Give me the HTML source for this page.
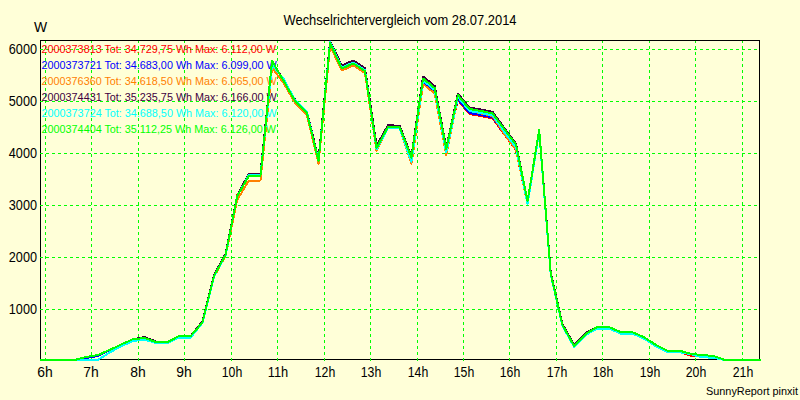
<!DOCTYPE html>
<html><head><meta charset="utf-8"><title>Wechselrichtervergleich</title>
<style>
html,body{margin:0;padding:0;background:#FFFFD8;width:800px;height:400px;overflow:hidden}
svg{position:absolute;left:0;top:0;display:block}
text{font-family:"Liberation Sans",sans-serif}
</style></head><body>
<svg width="800" height="400" viewBox="0 0 800 400">
<rect x="0" y="0" width="800" height="400" fill="#FFFFD8"/>

<g shape-rendering="crispEdges" fill="none" stroke="#000" stroke-width="1">
<rect x="40.5" y="40.5" width="719" height="319"/>
</g>
<g shape-rendering="crispEdges" fill="none" stroke="#00FF00" stroke-width="1" stroke-dasharray="3 3">
<line x1="40" y1="49.5" x2="759" y2="49.5"/>
<line x1="40" y1="101.5" x2="759" y2="101.5"/>
<line x1="40" y1="153.5" x2="759" y2="153.5"/>
<line x1="40" y1="205.5" x2="759" y2="205.5"/>
<line x1="40" y1="257.5" x2="759" y2="257.5"/>
<line x1="40" y1="309.5" x2="759" y2="309.5"/>
<line x1="45.5" y1="41" x2="45.5" y2="361" stroke-dashoffset="1"/>
<line x1="91.5" y1="41" x2="91.5" y2="361" stroke-dashoffset="1"/>
<line x1="138.5" y1="41" x2="138.5" y2="361" stroke-dashoffset="1"/>
<line x1="184.5" y1="41" x2="184.5" y2="361" stroke-dashoffset="1"/>
<line x1="231.5" y1="41" x2="231.5" y2="361" stroke-dashoffset="1"/>
<line x1="277.5" y1="41" x2="277.5" y2="361" stroke-dashoffset="1"/>
<line x1="324.5" y1="41" x2="324.5" y2="361" stroke-dashoffset="1"/>
<line x1="370.5" y1="41" x2="370.5" y2="361" stroke-dashoffset="1"/>
<line x1="417.5" y1="41" x2="417.5" y2="361" stroke-dashoffset="1"/>
<line x1="463.5" y1="41" x2="463.5" y2="361" stroke-dashoffset="1"/>
<line x1="509.5" y1="41" x2="509.5" y2="361" stroke-dashoffset="1"/>
<line x1="556.5" y1="41" x2="556.5" y2="361" stroke-dashoffset="1"/>
<line x1="602.5" y1="41" x2="602.5" y2="361" stroke-dashoffset="1"/>
<line x1="649.5" y1="41" x2="649.5" y2="361" stroke-dashoffset="1"/>
<line x1="695.5" y1="41" x2="695.5" y2="361" stroke-dashoffset="1"/>
<line x1="742.5" y1="41" x2="742.5" y2="361" stroke-dashoffset="1"/>
</g>
<g font-size="10.8">
<text x="41.6" y="53" fill="#FF0000">2000373813 Tot: 34.729,75 Wh Max: 6.112,00 W</text>
<text x="41.6" y="69" fill="#0000FF">2000373721 Tot: 34.683,00 Wh Max: 6.099,00 W</text>
<text x="41.6" y="85" fill="#FF8000">2000376360 Tot: 34.618,50 Wh Max: 6.065,00 W</text>
<text x="41.6" y="101" fill="#400040">2000374431 Tot: 35.235,75 Wh Max: 6.166,00 W</text>
<text x="41.6" y="117" fill="#00FFFF">2000373724 Tot: 34.688,50 Wh Max: 6.120,00 W</text>
<text x="41.6" y="133" fill="#00FF00">2000374404 Tot: 35.112,25 Wh Max: 6.126,00 W</text>
</g>
<g font-size="13.9" fill="#000">
<text x="400" y="25" text-anchor="middle" textLength="233" lengthAdjust="spacingAndGlyphs">Wechselrichtervergleich vom 28.07.2014</text>
<text x="40.5" y="32" text-anchor="middle">W</text>
<text x="37" y="54" font-size="14.2" text-anchor="end" textLength="28.2" lengthAdjust="spacingAndGlyphs">6000</text>
<text x="37" y="106" font-size="14.2" text-anchor="end" textLength="28.2" lengthAdjust="spacingAndGlyphs">5000</text>
<text x="37" y="158" font-size="14.2" text-anchor="end" textLength="28.2" lengthAdjust="spacingAndGlyphs">4000</text>
<text x="37" y="210" font-size="14.2" text-anchor="end" textLength="28.2" lengthAdjust="spacingAndGlyphs">3000</text>
<text x="37" y="262" font-size="14.2" text-anchor="end" textLength="28.2" lengthAdjust="spacingAndGlyphs">2000</text>
<text x="37" y="314" font-size="14.2" text-anchor="end" textLength="28.2" lengthAdjust="spacingAndGlyphs">1000</text>
<text x="45" y="377" text-anchor="middle">6h</text>
<text x="91" y="377" text-anchor="middle">7h</text>
<text x="138" y="377" text-anchor="middle">8h</text>
<text x="184" y="377" text-anchor="middle">9h</text>
<text x="232" y="377" text-anchor="middle" textLength="20.5" lengthAdjust="spacingAndGlyphs">10h</text>
<text x="278" y="377" text-anchor="middle" textLength="20.5" lengthAdjust="spacingAndGlyphs">11h</text>
<text x="325" y="377" text-anchor="middle" textLength="20.5" lengthAdjust="spacingAndGlyphs">12h</text>
<text x="371" y="377" text-anchor="middle" textLength="20.5" lengthAdjust="spacingAndGlyphs">13h</text>
<text x="418" y="377" text-anchor="middle" textLength="20.5" lengthAdjust="spacingAndGlyphs">14h</text>
<text x="464" y="377" text-anchor="middle" textLength="20.5" lengthAdjust="spacingAndGlyphs">15h</text>
<text x="510" y="377" text-anchor="middle" textLength="20.5" lengthAdjust="spacingAndGlyphs">16h</text>
<text x="557" y="377" text-anchor="middle" textLength="20.5" lengthAdjust="spacingAndGlyphs">17h</text>
<text x="603" y="377" text-anchor="middle" textLength="20.5" lengthAdjust="spacingAndGlyphs">18h</text>
<text x="650" y="377" text-anchor="middle" textLength="20.5" lengthAdjust="spacingAndGlyphs">19h</text>
<text x="696" y="377" text-anchor="middle" textLength="20.5" lengthAdjust="spacingAndGlyphs">20h</text>
<text x="743" y="377" text-anchor="middle" textLength="20.5" lengthAdjust="spacingAndGlyphs">21h</text>
</g>
<text x="798" y="395" text-anchor="end" font-size="10.9" fill="#000">SunnyReport pinxit</text>
<g fill="none" stroke-width="2" stroke-linejoin="round" stroke-linecap="round" shape-rendering="crispEdges">
<polyline stroke="#FF0000" points="41,360 51.41,360 63.02,360 74.63,360 86.25,357.0 97.86,355.0 109.47,350.0 121.09,344.5 132.7,339.3 144.32,338.0 155.93,342.0 167.54,342.0 179.16,336.0 190.77,336.0 202.38,322.5 214.0,276.0 225.61,254.6 237.22,195 248.84,175.5 260.45,176.0 272.07,61.0 283.68,81.0 295.29,101.5 306.91,113.0 318.52,161.0 330.13,43.8 341.75,68.5 353.36,63.5 364.97,71.0 376.59,148.0 388.2,126.5 399.81,127.5 411.43,157.5 423.04,78.5 434.66,88.0 446.27,149.0 457.88,100 469.5,114 481.11,116 492.72,118.5 504.34,134.5 515.95,150.0 527.56,204 539.18,130.0 550.79,274.0 562.41,325.0 574.02,345.8 585.63,334.0 597.25,327.0 608.86,327.0 620.47,332.0 632.09,332.0 643.7,337.0 655.31,344.5 666.93,350.5 678.54,351.5 690.15,355.5 701.77,356.2 713.38,355.8 725.0,360 736.61,360 760,360"/>
<polyline stroke="#0000FF" points="41,360 51.41,360 63.02,360 74.63,360 86.25,358 97.86,356 109.47,350.0 121.09,344.5 132.7,339.3 144.32,338.0 155.93,342.0 167.54,342.0 179.16,336.0 190.77,336.0 202.38,322.5 214.0,276.0 225.61,254.6 237.22,196.0 248.84,176.0 260.45,176.0 272.07,62 283.68,81.0 295.29,101.5 306.91,113.0 318.52,161.0 330.13,44.5 341.75,70.0 353.36,65.0 364.97,72.5 376.59,148.0 388.2,127.5 399.81,128.5 411.43,157.5 423.04,82.5 434.66,92 446.27,149.0 457.88,99 469.5,113 481.11,115 492.72,117.5 504.34,133.5 515.95,149.0 527.56,204 539.18,131 550.79,274.0 562.41,325.0 574.02,345.8 585.63,334.0 597.25,327.0 608.86,327.0 620.47,332.0 632.09,332.0 643.7,337.0 655.31,344.5 666.93,350.5 678.54,350.5 690.15,353.5 701.77,355.2 713.38,355.8 725.0,360 736.61,360 760,360"/>
<polyline stroke="#FF8000" points="41,360 51.41,360 63.02,360 74.63,360 86.25,357.0 97.86,355.0 109.47,350.0 121.09,344.5 132.7,339.3 144.32,338.0 155.93,342.0 167.54,342.0 179.16,336.5 190.77,336.5 202.38,323.0 214.0,277 225.61,255.6 237.22,200 248.84,180.5 260.45,180.5 272.07,68 283.68,83 295.29,103.5 306.91,115 318.52,163.5 330.13,46 341.75,70.5 353.36,65.5 364.97,73 376.59,151 388.2,127.5 399.81,128.5 411.43,164.0 423.04,84.0 434.66,93.5 446.27,155 457.88,96.5 469.5,110.5 481.11,113.5 492.72,116.0 504.34,134 515.95,149.5 527.56,204 539.18,132 550.79,274.5 562.41,325.5 574.02,346.3 585.63,334.5 597.25,327.0 608.86,327.0 620.47,332.0 632.09,332.0 643.7,337.0 655.31,344.5 666.93,350.5 678.54,350.5 690.15,353.5 701.77,355.2 713.38,355.8 725.0,360 736.61,360 760,360"/>
<polyline stroke="#400040" points="41,360 51.41,360 63.02,360 74.63,360 86.25,357.0 97.86,355.0 109.47,350.0 121.09,344.5 132.7,339.3 144.32,337 155.93,341.5 167.54,342.0 179.16,336.0 190.77,336.0 202.38,321.5 214.0,275 225.61,253.6 237.22,195.5 248.84,173.5 260.45,173.5 272.07,61.0 283.68,80.5 295.29,100.0 306.91,111.5 318.52,159 330.13,41 341.75,65.5 353.36,60.5 364.97,68 376.59,145.5 388.2,125.0 399.81,126.0 411.43,156.5 423.04,76.5 434.66,86 446.27,148 457.88,93.5 469.5,107.5 481.11,109.5 492.72,112.0 504.34,128 515.95,143.5 527.56,201.0 539.18,130.0 550.79,273 562.41,324 574.02,344.8 585.63,333 597.25,327.0 608.86,327.0 620.47,332.0 632.09,332.0 643.7,337.0 655.31,344.5 666.93,350.5 678.54,350.5 690.15,353.5 701.77,355.2 713.38,355.8 725.0,360 736.61,360 760,360"/>
<polyline stroke="#00FFFF" points="41,360 51.41,360 63.02,360 74.63,360 86.25,360 97.86,360 109.47,352.5 121.09,346.5 132.7,341 144.32,339.5 155.93,343 167.54,343 179.16,337.5 190.77,337.5 202.38,323.0 214.0,276.5 225.61,255.1 237.22,196.5 248.84,175 260.45,175 272.07,65 283.68,79 295.29,100.5 306.91,112 318.52,161.0 330.13,42 341.75,67.5 353.36,62.5 364.97,70 376.59,149.5 388.2,127.5 399.81,128.5 411.43,162.0 423.04,80.5 434.66,90 446.27,152.5 457.88,97 469.5,111 481.11,113 492.72,115.5 504.34,132 515.95,147.5 527.56,204 539.18,132 550.79,275 562.41,326 574.02,346.8 585.63,335 597.25,328.5 608.86,328.5 620.47,333.5 632.09,333.5 643.7,338.5 655.31,346.0 666.93,352.0 678.54,352.0 690.15,354.0 701.77,357.2 713.38,357.8 725.0,360 736.61,360 760,360"/>
<polyline stroke="#00FF00" points="41,360 51.41,360 63.02,360 74.63,360 86.25,357 97.86,355 109.47,350 121.09,344.5 132.7,339.3 144.32,338 155.93,342 167.54,342 179.16,336 190.77,336 202.38,322.5 214.0,276 225.61,254.6 237.22,196 248.84,176 260.45,176 272.07,61 283.68,81 295.29,101.5 306.91,113 318.52,161 330.13,43 341.75,68.5 353.36,63.5 364.97,71 376.59,148 388.2,126.5 399.81,127.5 411.43,157.5 423.04,78.5 434.66,88 446.27,149 457.88,95 469.5,109 481.11,111 492.72,113.5 504.34,129 515.95,144.5 527.56,201 539.18,130 550.79,274 562.41,325 574.02,345.8 585.63,334 597.25,327 608.86,327 620.47,332 632.09,332 643.7,337 655.31,344.5 666.93,350.5 678.54,350.5 690.15,353.5 701.77,355.2 713.38,355.8 725.0,360 736.61,360 760,360"/>
</g>
</svg></body></html>
